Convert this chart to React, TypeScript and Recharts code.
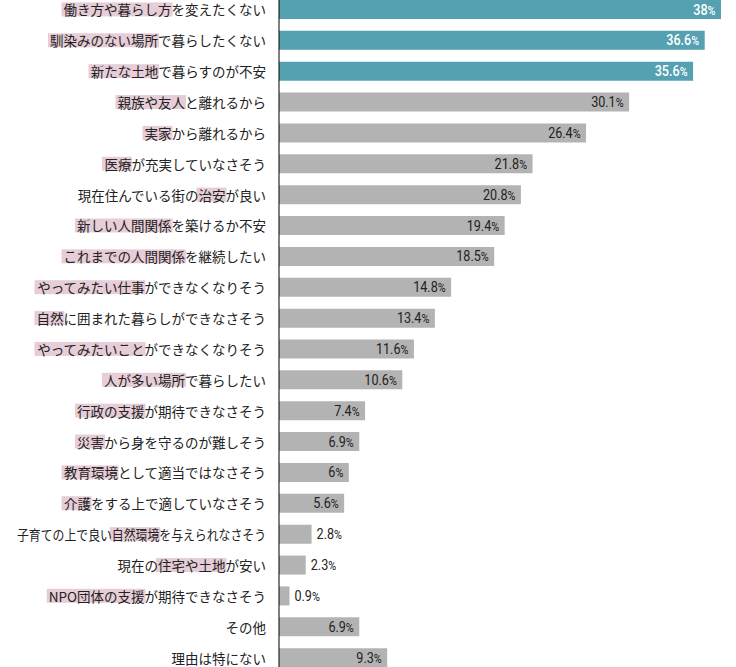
import React from 'react';
import { BarChart, Bar, XAxis, YAxis, Cell, LabelList } from 'recharts';

const categories = [
  '働き方や暮らし方を変えたくない',
  '馴染みのない場所で暮らしたくない',
  '新たな土地で暮らすのが不安',
  '親族や友人と離れるから',
  '実家から離れるから',
  '医療が充実していなさそう',
  '現在住んでいる街の治安が良い',
  '新しい人間関係を築けるか不安',
  'これまでの人間関係を継続したい',
  'やってみたい仕事ができなくなりそう',
  '自然に囲まれた暮らしができなさそう',
  'やってみたいことができなくなりそう',
  '人が多い場所で暮らしたい',
  '行政の支援が期待できなさそう',
  '災害から身を守るのが難しそう',
  '教育環境として適当ではなさそう',
  '介護をする上で適していなさそう',
  '子育ての上で良い自然環境を与えられなさそう',
  '現在の住宅や土地が安い',
  'NPO団体の支援が期待できなさそう',
  'その他',
  '理由は特にない',
];

const values = [38, 36.6, 35.6, 30.1, 26.4, 21.8, 20.8, 19.4, 18.5, 14.8, 13.4, 11.6, 10.6, 7.4, 6.9, 6, 5.6, 2.8, 2.3, 0.9, 6.9, 9.3];

const highlights = [
  '働き方や暮らし方',
  '馴染みのない場所',
  '新たな土地',
  '親族や友人',
  '実家',
  '医療',
  '治安',
  '新しい人間関係',
  'これまでの人間関係',
  'やってみたい仕事',
  '自然',
  'やってみたいこと',
  '人が多い場所',
  '行政の支援',
  '災害',
  '教育環境',
  '介護',
  '自然環境',
  '住宅や土地',
  'NPO団体の支援',
  '',
  '',
];

const featuredCount = 3;

const data = categories.map((name, i) => ({ name, value: values[i] }));

const TEAL = '#55a0b1';
const GRAY = '#b3b3b3';
const PINK = '#e6cdd7';
const LABEL_FAMILY = '"Noto Sans CJK JP", "Noto Sans", sans-serif';
const LABEL_SIZE = 13.5;
const VALUE_FAMILY = 'Roboto, "Liberation Sans", sans-serif';
const MAX_LABEL_W = 249;

let ctx: CanvasRenderingContext2D | null = null;
function measure(s: string): number {
  if (!ctx) ctx = document.createElement('canvas').getContext('2d');
  if (!ctx) return s.length * LABEL_SIZE;
  ctx.font = `${LABEL_SIZE}px "Noto Sans CJK JP"`;
  return ctx.measureText(s).width;
}

const Tick = (props: any) => {
  const { x, y, payload } = props;
  const text: string = payload.value;
  const idx = categories.indexOf(text);
  const hl = idx >= 0 ? highlights[idx] : '';
  const natural = measure(text);
  const w = Math.min(natural, MAX_LABEL_W);
  const k = w / natural;
  let rect = null;
  if (hl) {
    const start = text.indexOf(hl);
    const pre = measure(text.slice(0, start)) * k;
    const hw = measure(hl) * k;
    const left = x - w + pre - 2;
    rect = <rect x={left} y={y - 7} width={hw + 3} height={14} fill={PINK} />;
  }
  const extra: any = natural > MAX_LABEL_W ? { textLength: MAX_LABEL_W, lengthAdjust: 'spacingAndGlyphs' } : {};
  return (
    <g>
      {rect}
      <text
        x={x}
        y={y}
        textAnchor="end"
        dominantBaseline="central"
        fontFamily={LABEL_FAMILY}
        fontSize={LABEL_SIZE}
        fill="#222"
        {...extra}
      >
        {text}
      </text>
    </g>
  );
};

const ValueLabel = (props: any) => {
  const { x, y, width, height, value, index } = props;
  const inside = value >= 5;
  const featured = index < featuredCount;
  const tx = inside ? x + width - 5.5 : x + width + 5;
  const ty = y + height / 2;
  return (
    <g transform={`translate(${tx},${ty}) scale(0.9,1)`}>
      <text
        x={0}
        y={0}
        dy={5}
        textAnchor={inside ? 'end' : 'start'}
        fontFamily={VALUE_FAMILY}
        fontWeight={featured ? 500 : 400}
        fill={featured ? '#ffffff' : '#222'}
      >
        <tspan fontSize={14}>{value}</tspan>
        <tspan fontSize={12}>%</tspan>
      </text>
    </g>
  );
};

export default function App() {
  return (
    <div style={{ position: 'absolute', left: 0, top: -6, background: '#fff' }}>
      <BarChart
        width={736}
        height={679}
        data={data}
        layout="vertical"
        margin={{ top: 0, right: 15, bottom: 0, left: 0 }}
      >
        <XAxis type="number" domain={[0, 38]} hide />
        <YAxis
          type="category"
          dataKey="name"
          width={279}
          tickSize={0}
          tickMargin={13}
          tickLine={false}
          axisLine={{ stroke: '#000', strokeWidth: 1 }}
          tick={<Tick />}
          interval={0}
        />
        <Bar dataKey="value" barSize={19} isAnimationActive={false}>
          {data.map((d, i) => (
            <Cell key={d.name} fill={i < featuredCount ? TEAL : GRAY} />
          ))}
          <LabelList dataKey="value" content={<ValueLabel />} />
        </Bar>
      </BarChart>
    </div>
  );
}
